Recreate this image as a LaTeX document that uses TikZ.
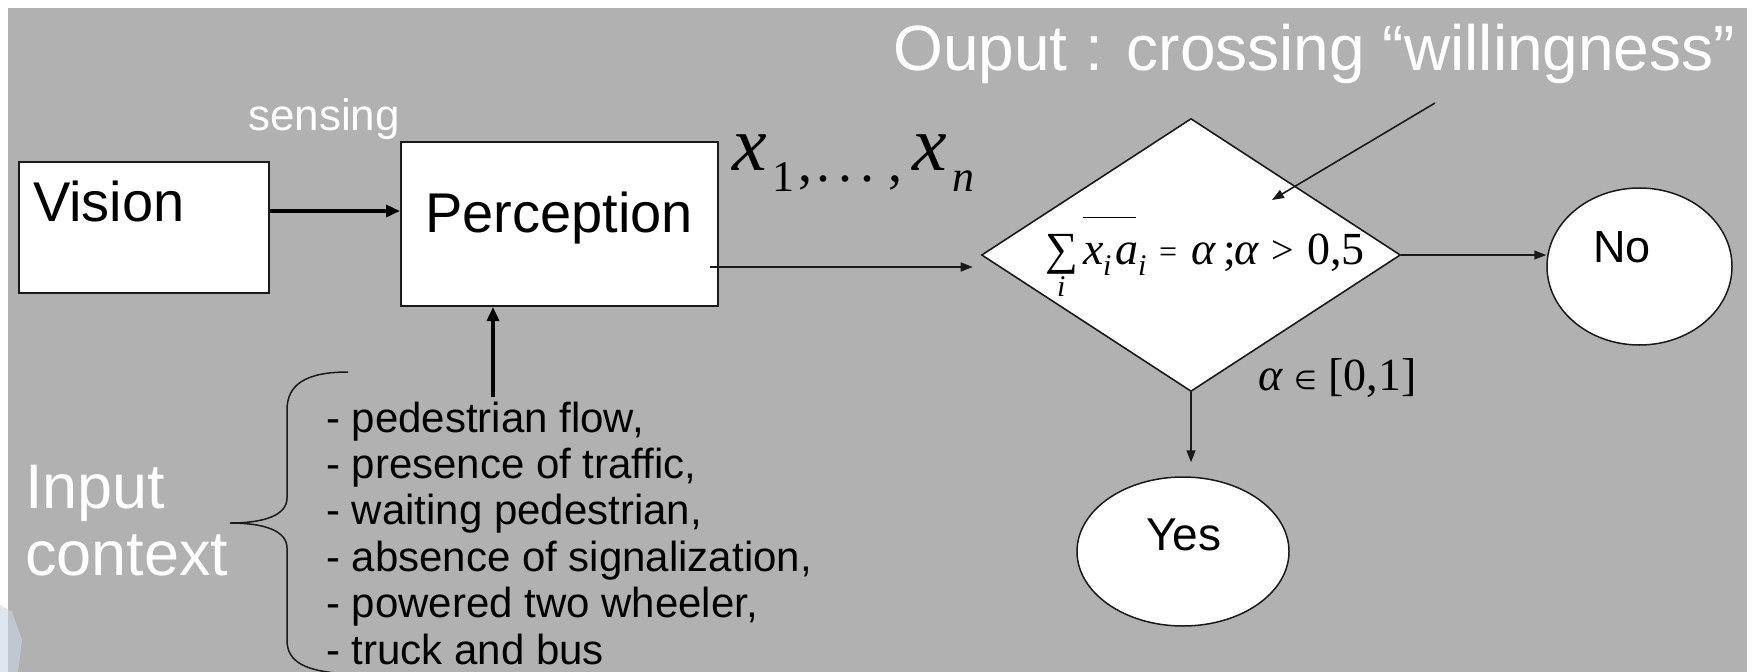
\documentclass[tikz,border=0pt]{standalone}
\usepackage{fontspec}
\setmainfont{Liberation Sans}
\newfontfamily\serifx{Liberation Serif}
\newfontfamily\djv{DejaVu Sans}
\usetikzlibrary{shapes.geometric,arrows.meta}
\definecolor{bg}{HTML}{B1B1B1}
\definecolor{ink}{HTML}{1A1A1A}
\definecolor{frag}{HTML}{C9D6E6}
\newcommand\pc[3]{\rlap{\kern#1pt\raisebox{#2pt}{#3}}}
\newcommand\fs[1]{\fontsize{#1}{#1}\selectfont}
\begin{document}
\begin{tikzpicture}[x=1pt,y=-1pt,
  rectbox/.style={draw=ink,line width=2pt,fill=white,inner sep=0pt},
  roundbox/.style={ellipse,draw=ink,line width=1.5pt,fill=white,inner sep=0pt},
  txt/.style={inner sep=0pt,anchor=base west},
  thinarr/.style={draw=ink,line width=1.6pt,-{Triangle[length=12pt,width=9pt]}},
  thickarr/.style={draw=black,line width=3.5pt,-{Triangle[length=14pt,width=12pt]}},
]
\useasboundingbox (0,0) rectangle (1754,672);
\fill[white] (0,0) rectangle (1754,672);
\fill[bg] (8,8) rectangle (1747,672);
% fragment of a picture at the lower left corner
\fill[frag, opacity=0.6] (0,605) -- (12,612) -- (22,640) -- (18,672) -- (0,672) -- cycle;

% boxes
\node[rectbox, minimum width=250pt, minimum height=131pt] (vision) at (144,227.5) {};
\node[txt, font=\fs{56}] (visiontxt) at (33,221) {Vision};
\node[rectbox, minimum width=317pt, minimum height=164pt] (perception) at (559.5,224) {};
\node[txt, font=\fs{56}] (perctxt) at (425,232) {Perception};
\node[txt, font=\fs{44}, text=white] (sensing) at (248,130) {sensing};

% decision
\node[diamond, draw=ink, line width=1.6pt, fill=white, inner sep=0pt,
      minimum width=419pt, minimum height=273pt] (dec) at (1191,255) {};
\node[txt, font=\serifx\fs{46}] (eq) at (1045,264)
  {\pc{0}{0}{∑}\pc{12}{-32}{\itshape\fs{30}i}\pc{38}{46}{\rule{53pt}{1.3pt}}%
   \pc{38}{0}{\itshape x}\pc{58}{-11}{\itshape\fs{30}i}\pc{70}{0}{\itshape a}%
   \pc{93}{-11}{\itshape\fs{30}i}\pc{114}{2}{\fs{32}=}\pc{146}{0}{\itshape α}%
   \pc{178}{0}{;}\pc{189}{0}{\itshape α}\pc{226}{1}{\fs{40}>}\pc{262}{0}{0,5}\kern315pt};
\node[txt, font=\serifx\fs{46}] (range) at (1258,390)
  {\pc{0}{0}{\itshape α}\pc{36}{1}{\djv\fs{26}∈}\pc{70}{0}{[0,1]}\kern165pt};

% outcomes
\node[roundbox, minimum width=185pt, minimum height=157pt] (no) at (1639.5,266.5) {};
\node[txt, font=\fs{45}] (notxt) at (1593,262) {No};
\node[roundbox, minimum width=212pt, minimum height=149pt] (yes) at (1183,551.5) {};
\node[txt, font=\fs{46}] (yestxt) at (1146,550) {Yes};

% variables
\node[txt, font=\serifx\fs{78}] (xs) at (732,170)
  {\pc{0}{0}{\itshape x}\pc{40}{-21}{\fs{44}1}\pc{66}{-11}{\fs{56},}%
   \pc{84}{-11}{\fs{56}.}\pc{106}{-11}{\fs{56}.}\pc{128}{-11}{\fs{56}.}%
   \pc{156}{-11}{\fs{56},}\pc{180}{0}{\itshape x}%
   \pc{220}{-21}{\itshape\fs{44}n}\kern245pt};

% title
\node[txt, font=\fs{64}, text=white] (title) at (893,70) {Ouput : crossing “willingness”};

% input context
\node[txt, font=\fs{63}, text=white] (input) at (25,508)
  {\vtop{\baselineskip=67pt\hbox{Input}\hbox{context}}};
\node[txt, font=\fs{42}] (items) at (326,432)
  {\vtop{\baselineskip=46.4pt
    \hbox{- pedestrian flow,}
    \hbox{- presence of traffic,}
    \hbox{- waiting pedestrian,}
    \hbox{- absence of signalization,}
    \hbox{- powered two wheeler,}
    \hbox{- truck and bus}}};
\draw[ink, line width=1.5pt] (348,372) .. controls (305,372) and (287,385) .. (287,410)
  -- (287,498) .. controls (287,515) and (265,523) .. (230,523)
  .. controls (265,523) and (287,531) .. (287,548)
  -- (287,640) .. controls (287,662) and (305,672) .. (350,674);

% connectors
\draw[thickarr] ([yshift=16.5pt]vision.east) -- ([yshift=16.5pt]vision.east -| perception.west);
\coordinate (ctx) at (493,397);
\draw[thickarr] (ctx) -- (ctx |- perception.south);
\coordinate (pout) at (710,267);
\draw[thinarr, shorten >=8pt] (pout) -- (pout -| dec.west);
\draw[thinarr] (dec.east) -- (dec.east -| no.west);
\draw[thinarr, shorten >=14pt] (dec.south) -- (dec.south |- yes.north);
\coordinate (tp1) at (1435,103);
\coordinate (tp2) at (1272,200);
\draw[thinarr] (tp1) -- (tp2);
\end{tikzpicture}
\end{document}
